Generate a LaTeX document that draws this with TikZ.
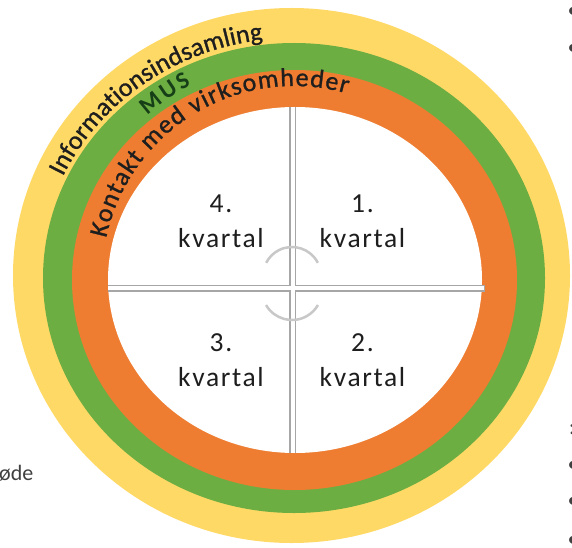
\documentclass[tikz,border=0pt]{standalone}
\usepackage{fontspec}
\setmainfont{Carlito}
\newfontfamily\quadfont[LetterSpace=6]{Carlito}
\newfontfamily\ringfont[FakeBold=1]{Carlito}
\usetikzlibrary{decorations.text}
\definecolor{ringyellow}{HTML}{FFD966}
\definecolor{ringgreen}{HTML}{6DAE43}
\definecolor{ringorange}{HTML}{EE7D31}
\definecolor{musgreen}{HTML}{173F17}
\definecolor{linegray}{HTML}{A6A6A6}
\definecolor{arcgray}{HTML}{C8C8C8}
\definecolor{textdark}{HTML}{1E1E1E}
\begin{document}
\begin{tikzpicture}[x=1pt,y=1pt,
  quad/.style={font=\quadfont\fontsize{27.5}{35}\selectfont, align=center, anchor=base, text=textdark, inner sep=0pt},
  ringtext/.style={decorate, decoration={text along path, text align={fit to path}, text color=textdark}},
  splitouter/.style={line width=7pt, draw=linegray},
  splitinner/.style={line width=4pt, draw=white},
  turnarc/.style={line width=2.5pt, draw=arcgray},
  margintext/.style={font=\fontsize{22}{22}\selectfont, text=black!75, inner sep=0pt}]
\useasboundingbox (0,0) rectangle (572,547);
\fill[white] (0,0) rectangle (572,547);
% rings
\coordinate (cy) at (291.5,271.5);
\coordinate (cg) at (294,269);
\coordinate (co) at (294.5,267);
\coordinate (cw) at (295,267);
\coordinate (ct) at (294,269);
\fill[ringyellow] (cy) ellipse [x radius=278.5, y radius=267.5];
\fill[ringgreen] (cg) ellipse [x radius=251, y radius=235];
\fill[ringorange] (co) ellipse [x radius=222.5, y radius=210];
\fill[white] (cw) ellipse [x radius=187, y radius=173];
% dividing lines
\coordinate (vt) at (292.7,440);
\coordinate (vb) at (292.7,94);
\coordinate (hl) at (108,259);
\coordinate (hr) at (485,259);
\coordinate (hri) at (483.5,259);
\draw[splitouter] (vt) -- (vb);
\draw[splitouter] (hl) -- (hr);
\draw[splitinner] (vt) -- (vb);
\draw[splitinner] (hl) -- (hri);
% turning arcs
\coordinate (ua) at (292,271);
\coordinate (la) at (292,257);
\draw[turnarc] ([shift={(27:29)}]ua) arc[start angle=27, end angle=153, radius=29];
\draw[turnarc] ([shift={(210:30)}]la) arc[start angle=210, end angle=330, radius=30];
% quarter labels (anchor = baseline of the last line)
\node[quad] (q4) at (221,299.3) {4.\\kvartal};
\node[quad] (q1) at (362.5,299.3) {1.\\kvartal};
\node[quad] (q3) at (221,160.3) {3.\\kvartal};
\node[quad] (q2) at (362.5,160.3) {2.\\kvartal};
% ring labels
\path[ringtext, decoration={text={|\ringfont\fontsize{26}{26}\selectfont|Informationsindsamling}}]
  ([shift={(155:255 and 240)}]ct) arc[start angle=155, end angle=97, x radius=255, y radius=240];
\path[ringtext, decoration={text color=musgreen, text={|\bfseries\fontsize{24}{24}\selectfont|MUS}}]
  ([shift={(132:219)}]ct) arc[start angle=132, end angle=118, radius=219];
\path[ringtext, decoration={text={|\ringfont\fontsize{26}{26}\selectfont|Kontakt med virksomheder}}]
  ([shift={(168:192)}]ct) arc[start angle=168, end angle=74, radius=192];
% cut-off margin text
\node[margintext] (b1) at (573,534.3) {•};
\node[margintext] (b2) at (573,497.5) {•};
\node[margintext] (b3) at (572,117) {:};
\node[margintext] (b4) at (573,81) {•};
\node[margintext] (b5) at (573,45) {•};
\node[margintext] (b6) at (573,6) {•};
\node[margintext, anchor=base west] (ode) at (-1,67) {øde};
\end{tikzpicture}
\end{document}
